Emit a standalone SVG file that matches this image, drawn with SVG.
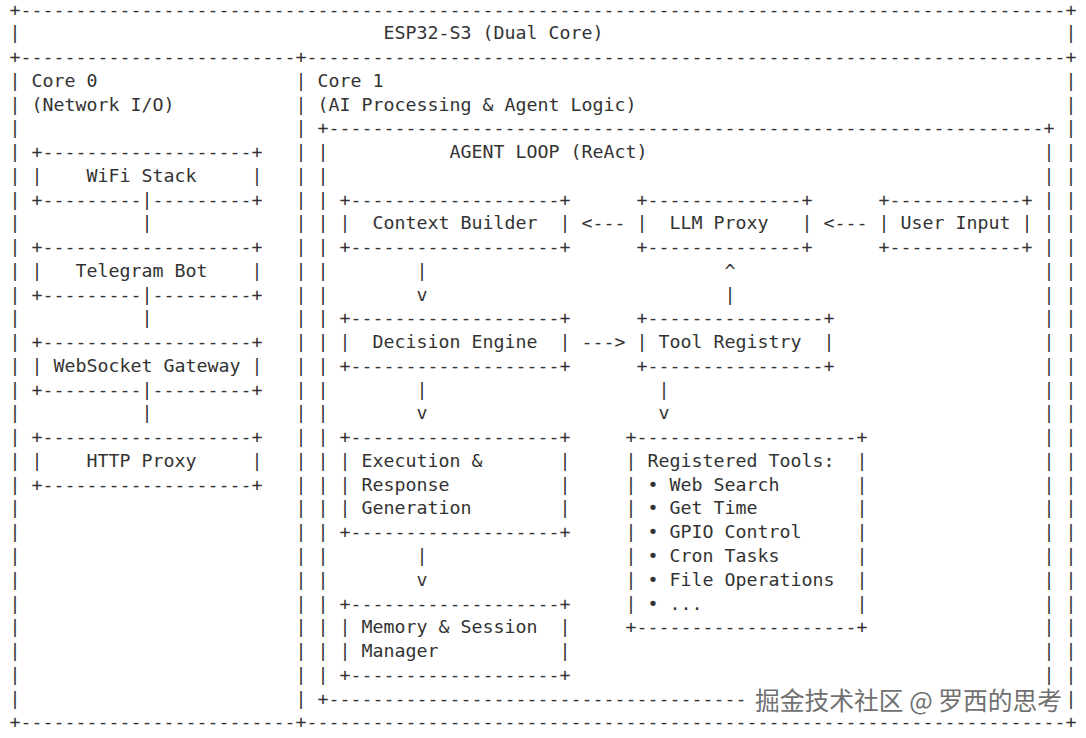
<svg xmlns="http://www.w3.org/2000/svg" width="1086" height="738" viewBox="0 0 1086 738" xml:space="preserve">
<style>
text { font-family: "DejaVu Sans Mono", "Liberation Mono", monospace; font-size: 18.27px; fill: #333333; white-space: pre; }
.wm { font-family: "Noto Sans CJK SC", "Noto Sans", sans-serif; font-size: 25px; fill: #707070; stroke: #ffffff; stroke-width: 3px; paint-order: stroke; stroke-linejoin: round; }
</style>
<rect width="1086" height="738" fill="#ffffff"/>

<g id="esp32-s3">
  <text y="15.5"><tspan x="9.5">+</tspan><tspan x="20.5" textLength="1045" lengthAdjust="spacing">-----------------------------------------------------------------------------------------------</tspan><tspan x="1065.5">+</tspan></text>
  <text y="39.26"><tspan x="9.5">|</tspan><tspan x="383.5">ESP32-S3 (Dual Core)</tspan><tspan x="1065.5">|</tspan></text>
  <text y="63.02"><tspan x="9.5">+</tspan><tspan x="20.5" textLength="275" lengthAdjust="spacing">-------------------------</tspan><tspan x="295.5">+</tspan><tspan x="306.5" textLength="759" lengthAdjust="spacing">---------------------------------------------------------------------</tspan><tspan x="1065.5">+</tspan></text>
  <text y="728.3"><tspan x="9.5">+</tspan><tspan x="20.5" textLength="275" lengthAdjust="spacing">-------------------------</tspan><tspan x="295.5">+</tspan><tspan x="306.5" textLength="759" lengthAdjust="spacing">---------------------------------------------------------------------</tspan><tspan x="1065.5">+</tspan></text>
  <text x="9.5 9.5 9.5 9.5 9.5 9.5 9.5 9.5 9.5 9.5 9.5 9.5 9.5 9.5 9.5 9.5 9.5 9.5 9.5 9.5 9.5 9.5 9.5 9.5 9.5 9.5 9.5" y="86.78 110.54 134.3 158.06 181.82 205.58 229.34 253.1 276.86 300.62 324.38 348.14 371.9 395.66 419.42 443.18 466.94 490.7 514.46 538.22 561.98 585.74 609.5 633.26 657.02 680.78 704.54">|||||||||||||||||||||||||||</text>
  <text x="1065.5 1065.5 1065.5 1065.5 1065.5 1065.5 1065.5 1065.5 1065.5 1065.5 1065.5 1065.5 1065.5 1065.5 1065.5 1065.5 1065.5 1065.5 1065.5 1065.5 1065.5 1065.5 1065.5 1065.5 1065.5 1065.5 1065.5" y="86.78 110.54 134.3 158.06 181.82 205.58 229.34 253.1 276.86 300.62 324.38 348.14 371.9 395.66 419.42 443.18 466.94 490.7 514.46 538.22 561.98 585.74 609.5 633.26 657.02 680.78 704.54">|||||||||||||||||||||||||||</text>
</g>

<g id="core0">
  <text x="31.5" y="86.78">Core 0</text>
  <text x="31.5" y="110.54">(Network I/O)</text>
</g>

<g id="core1">
  <text x="295.5 295.5 295.5 295.5 295.5 295.5 295.5 295.5 295.5 295.5 295.5 295.5 295.5 295.5 295.5 295.5 295.5 295.5 295.5 295.5 295.5 295.5 295.5 295.5 295.5 295.5 295.5" y="86.78 110.54 134.3 158.06 181.82 205.58 229.34 253.1 276.86 300.62 324.38 348.14 371.9 395.66 419.42 443.18 466.94 490.7 514.46 538.22 561.98 585.74 609.5 633.26 657.02 680.78 704.54">|||||||||||||||||||||||||||</text>
  <text x="317.5" y="86.78">Core 1</text>
  <text x="317.5" y="110.54">(AI Processing &amp; Agent Logic)</text>
</g>

<g id="agent-loop">
  <text y="134.3"><tspan x="317.5">+</tspan><tspan x="328.5" textLength="715" lengthAdjust="spacing">-----------------------------------------------------------------</tspan><tspan x="1043.5">+</tspan></text>
  <text y="704.54"><tspan x="317.5">+</tspan><tspan x="328.5" textLength="418" lengthAdjust="spacing">--------------------------------------</tspan></text>
  <text x="317.5 317.5 317.5 317.5 317.5 317.5 317.5 317.5 317.5 317.5 317.5 317.5 317.5 317.5 317.5 317.5 317.5 317.5 317.5 317.5 317.5 317.5 317.5 317.5" y="158.06 181.82 205.58 229.34 253.1 276.86 300.62 324.38 348.14 371.9 395.66 419.42 443.18 466.94 490.7 514.46 538.22 561.98 585.74 609.5 633.26 657.02 680.78">|||||||||||||||||||||||</text>
  <text x="1043.5 1043.5 1043.5 1043.5 1043.5 1043.5 1043.5 1043.5 1043.5 1043.5 1043.5 1043.5 1043.5 1043.5 1043.5 1043.5 1043.5 1043.5 1043.5 1043.5 1043.5 1043.5 1043.5 1043.5" y="158.06 181.82 205.58 229.34 253.1 276.86 300.62 324.38 348.14 371.9 395.66 419.42 443.18 466.94 490.7 514.46 538.22 561.98 585.74 609.5 633.26 657.02 680.78">|||||||||||||||||||||||</text>
  <text x="449.5" y="158.06">AGENT LOOP (ReAct)</text>
</g>

<g id="wifi-stack">
  <text x="31.5" y="158.06">+-------------------+</text>
  <text y="181.82"><tspan x="31.5">|</tspan><tspan x="86.5">WiFi Stack</tspan><tspan x="251.5">|</tspan></text>
  <text y="205.58"><tspan x="31.5">+---------</tspan><tspan x="152.5">---------+</tspan></text>
</g>

<g id="telegram-bot">
  <text x="31.5" y="253.1">+-------------------+</text>
  <text y="276.86"><tspan x="31.5">|</tspan><tspan x="75.5">Telegram Bot</tspan><tspan x="251.5">|</tspan></text>
  <text y="300.62"><tspan x="31.5">+---------</tspan><tspan x="152.5">---------+</tspan></text>
</g>

<g id="websocket-gateway">
  <text x="31.5" y="348.14">+-------------------+</text>
  <text y="371.9"><tspan x="31.5">|</tspan><tspan x="53.5">WebSocket Gateway</tspan><tspan x="251.5">|</tspan></text>
  <text y="395.66"><tspan x="31.5">+---------</tspan><tspan x="152.5">---------+</tspan></text>
</g>

<g id="http-proxy">
  <text x="31.5" y="443.18">+-------------------+</text>
  <text y="466.94"><tspan x="31.5">|</tspan><tspan x="86.5">HTTP Proxy</tspan><tspan x="251.5">|</tspan></text>
  <text x="31.5" y="490.7">+-------------------+</text>
</g>

<g id="context-builder">
  <text x="339.5" y="205.58">+-------------------+</text>
  <text y="229.34"><tspan x="339.5">|</tspan><tspan x="372.5">Context Builder</tspan><tspan x="559.5">|</tspan></text>
  <text x="339.5" y="253.1">+-------------------+</text>
</g>

<g id="llm-proxy">
  <text x="636.5" y="205.58">+--------------+</text>
  <text y="229.34"><tspan x="636.5">|</tspan><tspan x="669.5">LLM Proxy</tspan><tspan x="801.5">|</tspan></text>
  <text x="636.5" y="253.1">+--------------+</text>
</g>

<g id="user-input">
  <text x="878.5" y="205.58">+------------+</text>
  <text y="229.34"><tspan x="878.5">|</tspan><tspan x="900.5">User Input</tspan><tspan x="1021.5">|</tspan></text>
  <text x="878.5" y="253.1">+------------+</text>
</g>

<g id="decision-engine">
  <text x="339.5" y="324.38">+-------------------+</text>
  <text y="348.14"><tspan x="339.5">|</tspan><tspan x="372.5">Decision Engine</tspan><tspan x="559.5">|</tspan></text>
  <text x="339.5" y="371.9">+-------------------+</text>
</g>

<g id="tool-registry">
  <text x="636.5" y="324.38">+----------------+</text>
  <text y="348.14"><tspan x="636.5">|</tspan><tspan x="658.5">Tool Registry</tspan><tspan x="823.5">|</tspan></text>
  <text x="636.5" y="371.9">+----------------+</text>
</g>

<g id="execution-response">
  <text x="339.5" y="443.18">+-------------------+</text>
  <text y="466.94"><tspan x="339.5">|</tspan><tspan x="361.5">Execution &amp;</tspan><tspan x="559.5">|</tspan></text>
  <text y="490.7"><tspan x="339.5">|</tspan><tspan x="361.5">Response</tspan><tspan x="559.5">|</tspan></text>
  <text y="514.46"><tspan x="339.5">|</tspan><tspan x="361.5">Generation</tspan><tspan x="559.5">|</tspan></text>
  <text x="339.5" y="538.22">+-------------------+</text>
</g>

<g id="memory-session">
  <text x="339.5" y="609.5">+-------------------+</text>
  <text y="633.26"><tspan x="339.5">|</tspan><tspan x="361.5">Memory &amp; Session</tspan><tspan x="559.5">|</tspan></text>
  <text y="657.02"><tspan x="339.5">|</tspan><tspan x="361.5">Manager</tspan><tspan x="559.5">|</tspan></text>
  <text x="339.5" y="680.78">+-------------------+</text>
</g>

<g id="registered-tools">
  <text x="625.5" y="443.18">+--------------------+</text>
  <text y="466.94"><tspan x="625.5">|</tspan><tspan x="647.5">Registered Tools:</tspan><tspan x="856.5">|</tspan></text>
  <text y="490.7"><tspan x="625.5">|</tspan><tspan x="647.5">• Web Search</tspan><tspan x="856.5">|</tspan></text>
  <text y="514.46"><tspan x="625.5">|</tspan><tspan x="647.5">• Get Time</tspan><tspan x="856.5">|</tspan></text>
  <text y="538.22"><tspan x="625.5">|</tspan><tspan x="647.5">• GPIO Control</tspan><tspan x="856.5">|</tspan></text>
  <text y="561.98"><tspan x="625.5">|</tspan><tspan x="647.5">• Cron Tasks</tspan><tspan x="856.5">|</tspan></text>
  <text y="585.74"><tspan x="625.5">|</tspan><tspan x="647.5">• File Operations</tspan><tspan x="856.5">|</tspan></text>
  <text y="609.5"><tspan x="625.5">|</tspan><tspan x="647.5">• ...</tspan><tspan x="856.5">|</tspan></text>
  <text x="625.5" y="633.26">+--------------------+</text>
</g>

<g id="connectors">
  <text x="141.5" y="205.58">|</text>
  <text x="141.5" y="229.34">|</text>
  <text x="141.5" y="300.62">|</text>
  <text x="141.5" y="324.38">|</text>
  <text x="141.5" y="395.66">|</text>
  <text x="141.5" y="419.42">|</text>
  <text x="581.5" y="229.34">&lt;---</text>
  <text x="823.5" y="229.34">&lt;---</text>
  <text x="416.5" y="276.86">|</text>
  <text x="416.5" y="300.62">v</text>
  <text x="724.5" y="276.86">^</text>
  <text x="724.5" y="300.62">|</text>
  <text x="581.5" y="348.14">---&gt;</text>
  <text x="416.5" y="395.66">|</text>
  <text x="416.5" y="419.42">v</text>
  <text x="658.5" y="395.66">|</text>
  <text x="658.5" y="419.42">v</text>
  <text x="416.5" y="561.98">|</text>
  <text x="416.5" y="585.74">v</text>
</g>

<text class="wm" x="755" y="710" textLength="307" lengthAdjust="spacingAndGlyphs">掘金技术社区 @ 罗西的思考</text>
</svg>
